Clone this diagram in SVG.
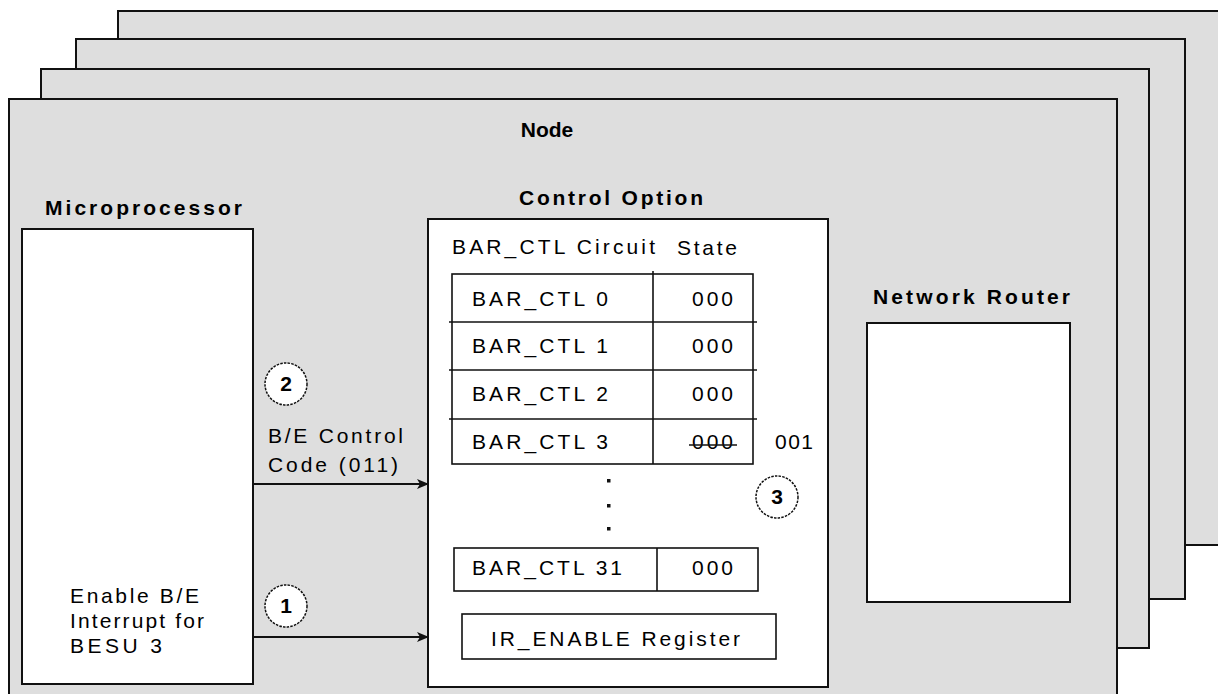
<svg xmlns="http://www.w3.org/2000/svg" width="1218" height="694" viewBox="0 0 1218 694">
<style>
.page{fill:#dedede;stroke:#111;stroke-width:2}
.box{fill:#fff;stroke:#111;stroke-width:2}
.cell{fill:none;stroke:#111;stroke-width:1.6}
.t{font-family:"Liberation Sans",Arial,sans-serif;font-size:21px;fill:#000}
.b{font-family:"Liberation Sans",Arial,sans-serif;font-size:21px;font-weight:bold;fill:#000}
.c{fill:#fff;stroke:#111;stroke-width:1.5;stroke-dasharray:2.5 1.2}
.ln{stroke:#111;stroke-width:2;fill:none}
</style>
<defs>
<marker id="ah" viewBox="0 0 12 10" refX="11" refY="5" markerWidth="12" markerHeight="10" markerUnits="userSpaceOnUse" orient="auto">
<path d="M0,0 L12,5 L0,10 L3,5 Z" fill="#111"/>
</marker>
</defs>
<rect width="1218" height="694" fill="#fff"/>
<g id="pages">
<rect class="page" x="118" y="11" width="1120" height="534"/>
<rect class="page" x="76" y="39" width="1109" height="560"/>
<rect class="page" x="41" y="69" width="1108" height="579"/>
</g>
<g id="node">
<rect class="page" x="9" y="99" width="1108" height="620"/>
<text class="b" x="547" y="137" text-anchor="middle" font-size="20">Node</text>
</g>
<g id="microprocessor">
<text class="b" x="45" y="215" textLength="197" lengthAdjust="spacing">Microprocessor</text>
<rect class="box" x="22" y="229" width="231" height="455"/>
<text class="t" x="70" y="603" textLength="129" lengthAdjust="spacing">Enable B/E</text>
<text class="t" x="70" y="628" textLength="134" lengthAdjust="spacing">Interrupt for</text>
<text class="t" x="70" y="653" textLength="92" lengthAdjust="spacing">BESU 3</text>
</g>
<g id="control-option">
<text class="b" x="519" y="205" textLength="184" lengthAdjust="spacing">Control Option</text>
<rect class="box" x="428" y="219" width="400" height="468"/>
<text class="t" x="452" y="254" textLength="203" lengthAdjust="spacing">BAR_CTL Circuit</text>
<text class="t" x="677" y="255" textLength="60" lengthAdjust="spacing">State</text>
<g id="bar-table">
<rect class="cell" x="452" y="274" width="301" height="190"/>
<line class="cell" x1="653" y1="271" x2="653" y2="464"/>
<line class="cell" x1="449" y1="322" x2="757" y2="322"/>
<line class="cell" x1="449" y1="370" x2="757" y2="370"/>
<line class="cell" x1="449" y1="419" x2="757" y2="419"/>
<text class="t" x="472" y="306" textLength="136" lengthAdjust="spacing">BAR_CTL 0</text>
<text class="t" x="472" y="353" textLength="136" lengthAdjust="spacing">BAR_CTL 1</text>
<text class="t" x="472" y="401" textLength="136" lengthAdjust="spacing">BAR_CTL 2</text>
<text class="t" x="472" y="449" textLength="136" lengthAdjust="spacing">BAR_CTL 3</text>
<text class="t" x="692" y="306" textLength="41" lengthAdjust="spacing">000</text>
<text class="t" x="692" y="353" textLength="41" lengthAdjust="spacing">000</text>
<text class="t" x="692" y="401" textLength="41" lengthAdjust="spacing">000</text>
<text class="t" x="692" y="449" textLength="41" lengthAdjust="spacing">000</text>
<line x1="689" y1="445" x2="737" y2="445" stroke="#111" stroke-width="1.5"/>
<text class="t" x="775" y="449" textLength="38" lengthAdjust="spacing">001</text>
</g>
<rect x="607" y="479" width="3.5" height="3.5" fill="#111"/>
<rect x="607" y="504" width="3.5" height="3.5" fill="#111"/>
<rect x="607" y="527" width="3.5" height="3.5" fill="#111"/>
<g id="bar-ctl-31">
<rect class="cell" x="454" y="548" width="304" height="43"/>
<line class="cell" x1="657" y1="548" x2="657" y2="591"/>
<text class="t" x="472" y="575" textLength="150" lengthAdjust="spacing">BAR_CTL 31</text>
<text class="t" x="692" y="575" textLength="41" lengthAdjust="spacing">000</text>
</g>
<g id="ir-enable">
<rect class="cell" x="462" y="614" width="314" height="45"/>
<text class="t" x="491" y="646" textLength="249" lengthAdjust="spacing">IR_ENABLE Register</text>
</g>
</g>
<g id="network-router">
<text class="b" x="873" y="304" textLength="197" lengthAdjust="spacing">Network Router</text>
<rect class="box" x="867" y="323" width="203" height="279"/>
</g>
<g id="connectors">
<line class="ln" x1="253" y1="484" x2="428" y2="484" marker-end="url(#ah)"/>
<line class="ln" x1="253" y1="637" x2="428" y2="637" marker-end="url(#ah)"/>
<text class="t" x="268" y="443" textLength="135" lengthAdjust="spacing">B/E Control</text>
<text class="t" x="268" y="472" textLength="130" lengthAdjust="spacing">Code (011)</text>
</g>
<g id="steps">
<g id="step-2">
<circle class="c" cx="286" cy="384" r="21"/>
<text class="b" x="286" y="391" text-anchor="middle" font-size="19">2</text>
</g>
<g id="step-1">
<circle class="c" cx="286" cy="606" r="21"/>
<text class="b" x="286" y="613" text-anchor="middle" font-size="19">1</text>
</g>
<g id="step-3">
<circle class="c" cx="777" cy="497" r="21"/>
<text class="b" x="777" y="504" text-anchor="middle" font-size="19">3</text>
</g>
</g>
</svg>
